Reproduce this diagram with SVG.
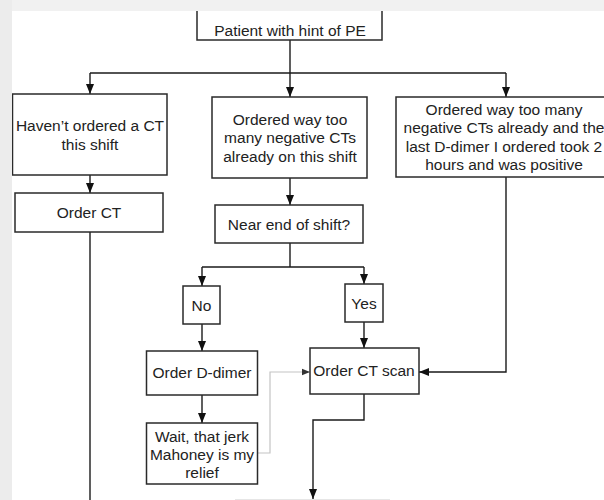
<svg xmlns="http://www.w3.org/2000/svg" width="604" height="500" viewBox="0 0 604 500">
<style>
.box{fill:#fff;stroke:#2a2a2a;stroke-width:1.5}
.t{font-family:"Liberation Sans",Arial,sans-serif;font-size:15.5px;fill:#222;text-anchor:middle}
.c{fill:none;stroke:#1a1a1a;stroke-width:1.4}
.g{fill:none;stroke:#c4c4c4;stroke-width:1.2}
</style>
<defs>
<marker id="a" markerUnits="userSpaceOnUse" markerWidth="10" markerHeight="10" viewBox="0 0 10 10" refX="10" refY="5" orient="auto">
<path d="M0,1 L10,5 L0,9 Z" fill="#111"/>
</marker>
<marker id="ag" markerUnits="userSpaceOnUse" markerWidth="8" markerHeight="8" viewBox="0 0 10 10" refX="10" refY="5" orient="auto">
<path d="M0,1 L10,5 L0,9 Z" fill="#333"/>
</marker>
</defs>
<rect x="0" y="0" width="604" height="500" fill="#fff"/>
<g id="connectors">
<path class="c" d="M290,40 V73"/>
<path class="c" d="M90,73 H506"/>
<path class="c" d="M90,73 V94" marker-end="url(#a)"/>
<path class="c" d="M290,73 V97" marker-end="url(#a)"/>
<path class="c" d="M506,73 V97" marker-end="url(#a)"/>
<path class="c" d="M90,175 V193" marker-end="url(#a)"/>
<path class="c" d="M90,232 V500"/>
<path class="c" d="M290,178 V205" marker-end="url(#a)"/>
<path class="c" d="M290,243 V267"/>
<path class="c" d="M202,267 H364"/>
<path class="c" d="M202,267 V286" marker-end="url(#a)"/>
<path class="c" d="M364,267 V284" marker-end="url(#a)"/>
<path class="c" d="M202,324 V351" marker-end="url(#a)"/>
<path class="c" d="M364,322 V348" marker-end="url(#a)"/>
<path class="c" d="M202,395 V423" marker-end="url(#a)"/>
<path class="c" d="M506,177 V372 H419" marker-end="url(#a)"/>
<path class="g" d="M257.5,453 H270 V372 H310" marker-end="url(#ag)"/>
<path class="c" d="M364,394 V420 H313 V499" marker-end="url(#a)"/>
<path d="M235,499.5 H390" stroke="#e6e6e6" stroke-width="1"/>
</g>
<g id="n-patient">
<rect class="box" x="197" y="-5" width="185" height="45"/>
<text class="t" x="290" y="36">Patient with hint of PE</text>
</g>
<g id="n-noct">
<rect class="box" x="12.5" y="94" width="154.5" height="81"/>
<text class="t" x="90" y="131">Haven’t ordered a CT</text>
<text class="t" x="90" y="149.5">this shift</text>
</g>
<g id="n-toomany">
<rect class="box" x="212" y="97" width="155" height="81"/>
<text class="t" x="290" y="124.5">Ordered way too</text>
<text class="t" x="290" y="143">many negative CTs</text>
<text class="t" x="290" y="161.5">already on this shift</text>
</g>
<g id="n-ddimer-pos">
<rect class="box" x="396" y="97" width="216" height="80"/>
<text class="t" x="504" y="114.5">Ordered way too many</text>
<text class="t" x="504" y="133">negative CTs already and the</text>
<text class="t" x="504" y="151.5">last D-dimer I ordered took 2</text>
<text class="t" x="504" y="170">hours and was positive</text>
</g>
<g id="n-orderct">
<rect class="box" x="15" y="193" width="148" height="39"/>
<text class="t" x="89" y="217.5">Order CT</text>
</g>
<g id="n-nearend">
<rect class="box" x="215" y="205" width="148" height="38"/>
<text class="t" x="289" y="229.5">Near end of shift?</text>
</g>
<g id="n-no">
<rect class="box" x="183" y="286" width="37" height="38"/>
<text class="t" x="201.5" y="310.5">No</text>
</g>
<g id="n-yes">
<rect class="box" x="345" y="284" width="38" height="38"/>
<text class="t" x="364" y="308.5">Yes</text>
</g>
<g id="n-orderdd">
<rect class="box" x="146.5" y="351" width="111" height="44"/>
<text class="t" x="202" y="377.5">Order D-dimer</text>
</g>
<g id="n-wait">
<rect class="box" x="146.5" y="423" width="111" height="61"/>
<text class="t" x="202" y="441.5">Wait, that jerk</text>
<text class="t" x="202" y="459.5">Mahoney is my</text>
<text class="t" x="202" y="477.5">relief</text>
</g>
<g id="n-ctscan">
<rect class="box" x="310" y="348" width="109" height="46"/>
<text class="t" x="364" y="375.5">Order CT scan</text>
</g>
<rect x="0" y="0" width="604" height="11" fill="#f1f1f1"/>
<rect x="0" y="0" width="12" height="500" fill="#ececec"/>
</svg>
